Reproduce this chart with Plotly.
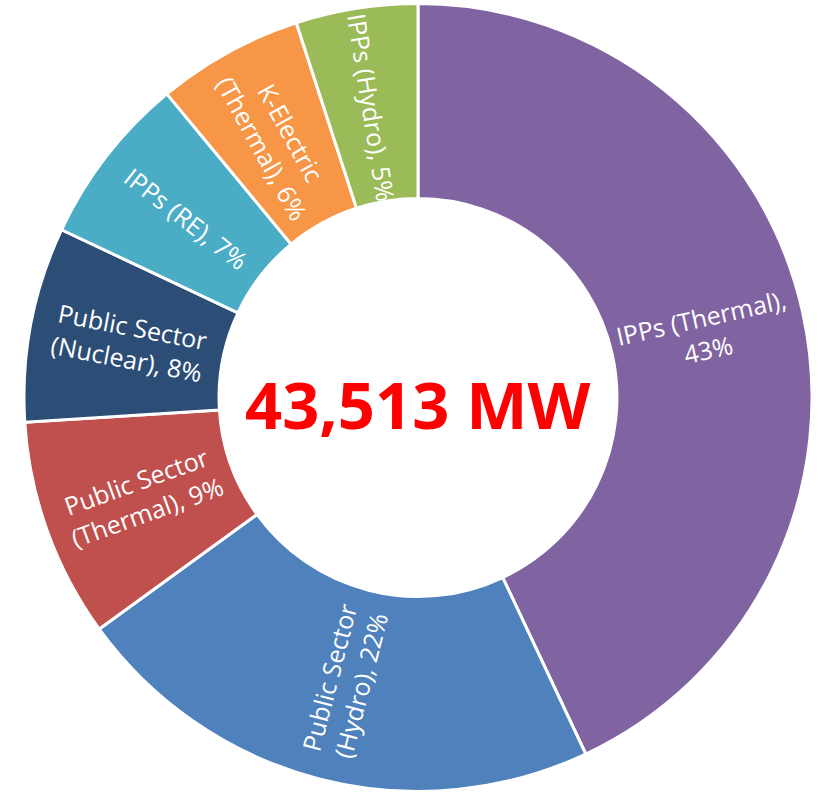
import math
import plotly.graph_objects as go

categories = ["IPPs (Thermal)", "Public Sector (Hydro)", "Public Sector (Thermal)",
              "Public Sector (Nuclear)", "IPPs (RE)", "K-Electric (Thermal)", "IPPs (Hydro)"]
shares = [43, 22, 9, 8, 7, 6, 5]
label_text = ["IPPs (Thermal),<br>43%", "Public Sector<br>(Hydro), 22%", "Public Sector<br>(Thermal), 9%",
              "Public Sector<br>(Nuclear), 8%", "IPPs (RE), 7%", "K-Electric<br>(Thermal), 6%",
              "IPPs (Hydro), 5%"]
colors = ["#8064A2", "#4F81BD", "#C0504D", "#2C4D75", "#4BACC6", "#F79646", "#9BBB59"]
total_label = "43,513 MW"

W, H = 823, 797
cx, cy, r = 418, 397.5, 394
hole = 0.505

fig = go.Figure(go.Pie(
    labels=categories,
    values=shares,
    textinfo="none",
    marker=dict(colors=colors, line=dict(color="white", width=3)),
    hole=hole,
    sort=False,
    direction="clockwise",
    rotation=0,
    domain=dict(x=[(cx - r) / W, (cx + r) / W], y=[(H - cy - r) / H, (H - cy + r) / H]),
    showlegend=False,
    hoverinfo="label+percent",
))

# radial slice labels, placed at the middle of each ring segment
total = sum(shares)
rm = r * (1 + hole) / 2 - 3
cum = 0.0
for v, t in zip(shares, label_text):
    theta = (cum + v / 2) / total * 360.0  # clockwise from 12 o'clock
    cum += v
    rad = math.radians(theta)
    px = cx + rm * math.sin(rad)
    py = cy - rm * math.cos(rad)
    th = theta if theta <= 180 else theta - 360
    angle = th - 90 if th > 0 else th + 90
    fig.add_annotation(
        text=t, x=px / W, y=1 - py / H, xref="paper", yref="paper",
        showarrow=False, textangle=angle, xanchor="center", yanchor="middle",
        font=dict(family="Open Sans", size=25, color="white"),
    )

fig.add_annotation(
    text=f"<b>{total_label}</b>", x=cx / W, y=1 - 404 / H, xref="paper", yref="paper",
    showarrow=False, font=dict(family="Open Sans", size=65, color="#FF0000"),
    xanchor="center", yanchor="middle",
)

fig.update_layout(
    width=W, height=H,
    margin=dict(l=0, r=0, t=0, b=0),
    paper_bgcolor="white", plot_bgcolor="white",
)

fig.write_html("out.html")
